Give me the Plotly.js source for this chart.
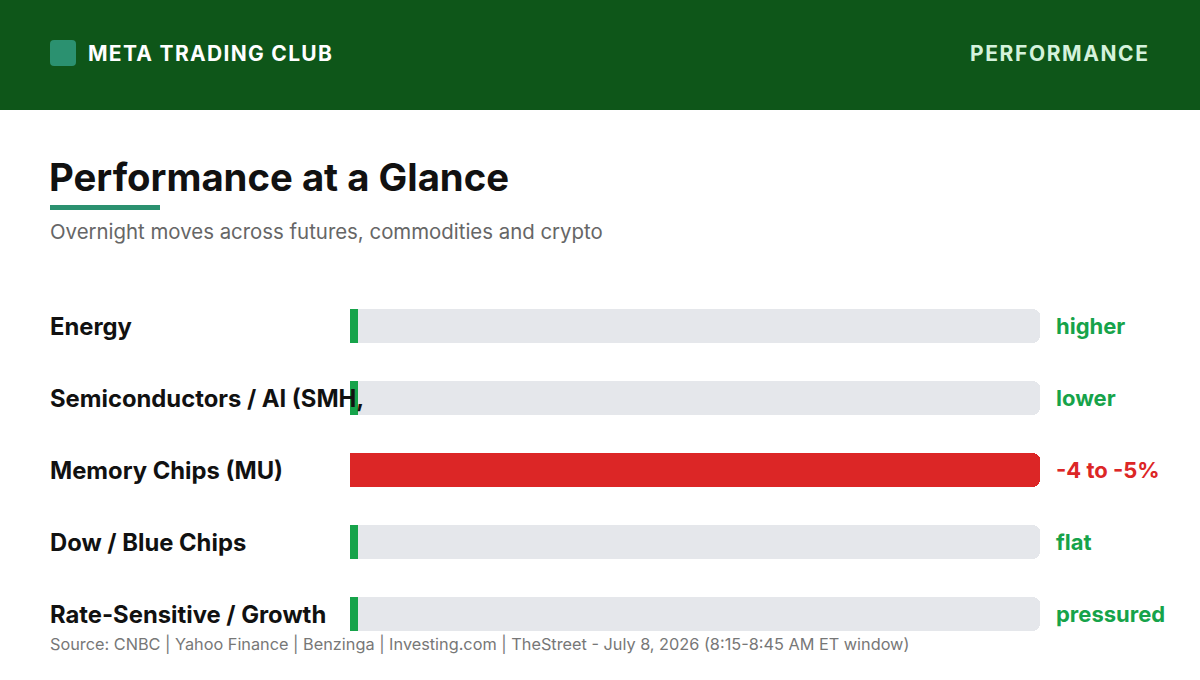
<!DOCTYPE html>
<html>
<head>
<meta charset="utf-8">
<script src="https://cdn.plot.ly/plotly-3.0.1.min.js"></script>
<style>html,body{margin:0;padding:0;background:#fff;}#chart{width:1200px;height:680px;}</style>
</head>
<body>
<div id="chart"></div>
<script>
const categories = ["Energy", "Semiconductors / AI (SMH,", "Memory Chips (MU)", "Dow / Blue Chips", "Rate-Sensitive / Growth"];
const moveLabels = ["higher", "lower", "-4 to -5%", "flat", "pressured"];
const magnitudes = [0.05, 0.05, 4.5, 0.05, 0.05];
const directions = ["up", "up", "down", "up", "up"];
const trackMax = 4.5;

const GREEN = "#16a34a", RED = "#dc2626", TRACK = "#e5e7eb";
const FONT = "Inter, 'Open Sans', sans-serif";
const W = 1200, H = 680;
const py = p => 1 - p / H;
const px = p => p / W;

const idx = categories.map((_, i) => i);
const barColors = directions.map(d => d === "down" ? RED : GREEN);
const upIdx = idx.filter(i => directions[i] !== "down");
const downIdx = idx.filter(i => directions[i] === "down");

const track = {
  type: "bar", orientation: "h", x: categories.map(() => trackMax), y: idx,
  marker: {color: TRACK, cornerradius: 7}, width: 0.47, hoverinfo: "skip", showlegend: false
};
const upBars = {
  type: "bar", orientation: "h", x: upIdx.map(i => magnitudes[i]), y: upIdx,
  marker: {color: GREEN, cornerradius: 4}, width: 0.47, showlegend: false,
  text: upIdx.map(i => moveLabels[i]), hovertemplate: "%{text}<extra></extra>", textposition: "none"
};
const downBars = {
  type: "bar", orientation: "h", x: downIdx.map(i => magnitudes[i]), y: downIdx,
  marker: {color: RED, cornerradius: 7}, width: 0.47, showlegend: false,
  text: downIdx.map(i => moveLabels[i]), hovertemplate: "%{text}<extra></extra>", textposition: "none"
};

const annotations = [];
categories.forEach((c, i) => {
  annotations.push({xref: "paper", yref: "y", x: px(48), y: i, xanchor: "left", yanchor: "middle",
    text: "<b>" + c + "</b>", showarrow: false, font: {family: FONT, size: 23.8, color: "#111"}});
  annotations.push({xref: "paper", yref: "y", x: px(1054), y: i, xanchor: "left", yanchor: "middle",
    text: "<b>" + moveLabels[i] + "</b>", showarrow: false, font: {family: FONT, size: 22, color: barColors[i]}});
});
annotations.push(
  {xref: "paper", yref: "paper", x: px(86), y: py(54), xanchor: "left", yanchor: "middle", showarrow: false,
   text: "<span style=\"letter-spacing:1.3px\"><b>META TRADING CLUB</b></span>", font: {family: FONT, size: 21, color: "#ffffff"}},
  {xref: "paper", yref: "paper", x: px(1152), y: py(54), xanchor: "right", yanchor: "middle", showarrow: false,
   text: "<span style=\"letter-spacing:1.6px\"><b>PERFORMANCE</b></span>", font: {family: FONT, size: 21, color: "#d4f2dc"}},
  {xref: "paper", yref: "paper", x: px(47), y: py(177), xanchor: "left", yanchor: "middle", showarrow: false,
   text: "<b>Performance at a Glance</b>", font: {family: FONT, size: 38.3, color: "#111"}},
  {xref: "paper", yref: "paper", x: px(48), y: py(231), xanchor: "left", yanchor: "middle", showarrow: false,
   text: "Overnight moves across futures, commodities and crypto", font: {family: FONT, size: 20.4, color: "#666"}},
  {xref: "paper", yref: "paper", x: px(48), y: py(644), xanchor: "left", yanchor: "middle", showarrow: false,
   text: "Source: CNBC | Yahoo Finance | Benzinga | Investing.com | TheStreet - July 8, 2026 (8:15-8:45 AM ET window)",
   font: {family: FONT, size: 16.3, color: "#777"}}
);

const shapes = [
  {type: "rect", xref: "paper", yref: "paper", x0: 0, x1: 1, y0: py(110), y1: 1, fillcolor: "#0e5619", line: {width: 0}, layer: "below"},
  {type: "path", xref: "paper", yref: "paper", fillcolor: "#2b9170", line: {width: 0},
   path: (() => {
     const x0 = 50, x1 = 76, y0 = 40, y1 = 66, r = 4;
     const X = v => px(v), Y = v => py(v);
     return `M ${X(x0 + r)} ${Y(y0)} L ${X(x1 - r)} ${Y(y0)} Q ${X(x1)} ${Y(y0)} ${X(x1)} ${Y(y0 + r)} L ${X(x1)} ${Y(y1 - r)} Q ${X(x1)} ${Y(y1)} ${X(x1 - r)} ${Y(y1)} L ${X(x0 + r)} ${Y(y1)} Q ${X(x0)} ${Y(y1)} ${X(x0)} ${Y(y1 - r)} L ${X(x0)} ${Y(y0 + r)} Q ${X(x0)} ${Y(y0)} ${X(x0 + r)} ${Y(y0)} Z`;
   })()},
  {type: "rect", xref: "paper", yref: "paper", x0: px(50), x1: px(160), y0: py(210), y1: py(205), fillcolor: "#2b9170", line: {width: 0}}
];

const layout = {
  width: W, height: H, margin: {l: 0, r: 0, t: 0, b: 0},
  paper_bgcolor: "#ffffff", plot_bgcolor: "rgba(0,0,0,0)",
  barmode: "overlay", bargap: 0,
  xaxis: {domain: [px(350), px(1040)], range: [0, trackMax], visible: false, fixedrange: true},
  yaxis: {domain: [py(650), py(290)], range: [4.5, -0.5], visible: false, fixedrange: true},
  annotations, shapes, showlegend: false, font: {family: FONT}
};

Plotly.newPlot("chart", [track, upBars, downBars], layout, {displayModeBar: false, staticPlot: true});
</script>
</body>
</html>
